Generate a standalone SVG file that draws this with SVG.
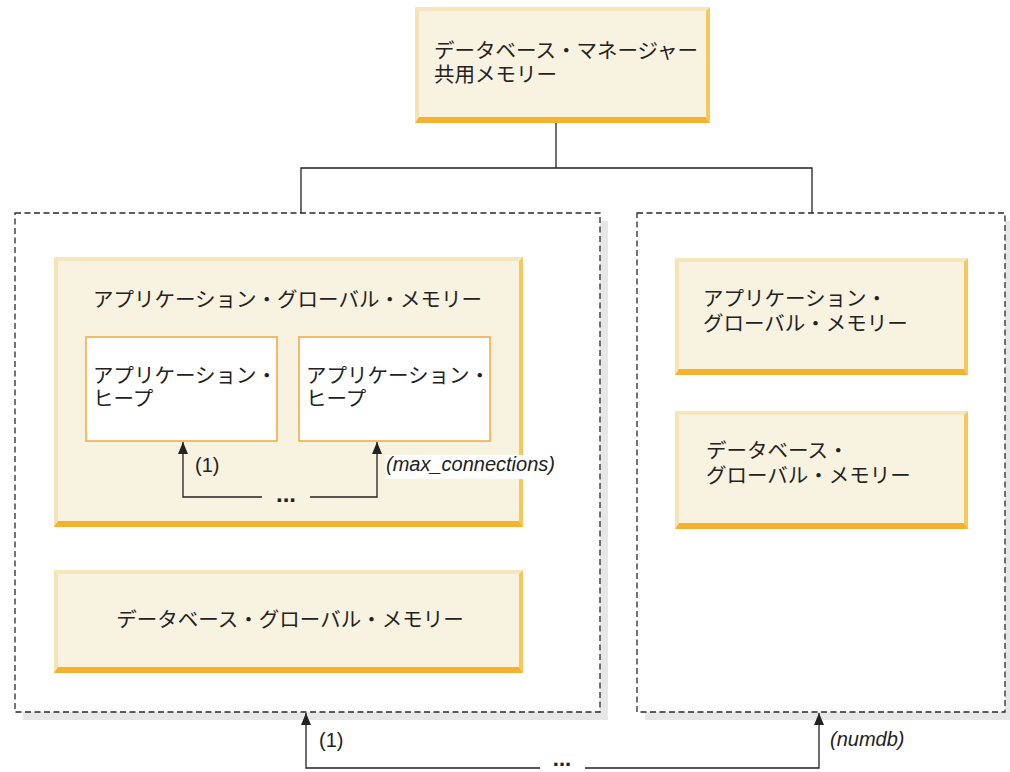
<svg xmlns="http://www.w3.org/2000/svg" width="1010" height="772" viewBox="0 0 1010 772">
<defs>
<style>
.bf{fill:#f8f2e0}
.bt{fill:#f6e6bd}
.bl{fill:#f6e3b3}
.br{fill:#f6c75a}
.bb{fill:#f4b22f}
.jp{font-family:"Noto Sans CJK JP","Noto Sans",sans-serif;font-size:20.5px;fill:#222}
.lb{font-family:"Liberation Sans",Arial,sans-serif;font-size:20px;fill:#222}
.it{font-style:italic}
.dots{font-family:"Liberation Sans",Arial,sans-serif;font-size:24px;font-weight:bold;fill:#222}
.dash{fill:#fff;stroke:#2a2a2a;stroke-width:1.3;stroke-dasharray:6 3.5}
.shadow{fill:#e7e7e7}
.heap{fill:#fff;stroke:#f3a93a;stroke-width:1.5}
.ln{fill:none;stroke:#222;stroke-width:1.3}
</style>
<marker id="arr" viewBox="0 0 12 10" refX="12" refY="5" markerWidth="12" markerHeight="10" markerUnits="userSpaceOnUse" orient="auto">
<path d="M0,0 L12,5 L0,10 z" fill="#222"/>
</marker>
</defs>
<rect width="1010" height="772" fill="#fff"/>

<g id="container-left">
<rect class="shadow" x="23" y="221" width="585" height="499"/>
<rect class="dash" x="15" y="213" width="585" height="499"/>
</g>
<g id="container-right">
<rect class="shadow" x="645" y="221" width="365" height="499"/>
<rect class="dash" x="637" y="213" width="368" height="499"/>
</g>

<g id="db-manager-shared">
<rect class="bf" x="415" y="7" width="295" height="116"/>
<polygon class="bt" points="415,7 710,7 706,11 419,11"/>
<polygon class="bl" points="415,7 419,11 419,117 415,123"/>
<polygon class="br" points="710,7 710,123 706,117 706,11"/>
<polygon class="bb" points="415,123 710,123 706,117 419,117"/>
<text class="jp"><tspan x="434" y="58">データベース・マネージャー</tspan><tspan x="434" y="82">共用メモリー</tspan></text>
</g>

<g id="app-global-left">
<rect class="bf" x="54" y="257" width="469" height="270"/>
<polygon class="bt" points="54,257 523,257 519,261 58,261"/>
<polygon class="bl" points="54,257 58,261 58,521 54,527"/>
<polygon class="br" points="523,257 523,527 519,521 519,261"/>
<polygon class="bb" points="54,527 523,527 519,521 58,521"/>
<text class="jp" x="93" y="307">アプリケーション・グローバル・メモリー</text>
</g>

<g id="heap-1">
<rect class="heap" x="86" y="337" width="191" height="104"/>
<text class="jp"><tspan x="93" y="383">アプリケーション・</tspan><tspan x="93" y="406">ヒープ</tspan></text>
</g>
<g id="heap-n">
<rect class="heap" x="299" y="337" width="191" height="104"/>
<text class="jp"><tspan x="306" y="383">アプリケーション・</tspan><tspan x="306" y="406">ヒープ</tspan></text>
</g>

<g id="db-global-left">
<rect class="bf" x="54" y="570" width="469" height="103"/>
<polygon class="bt" points="54,570 523,570 519,574 58,574"/>
<polygon class="bl" points="54,570 58,574 58,667 54,673"/>
<polygon class="br" points="523,570 523,673 519,667 519,574"/>
<polygon class="bb" points="54,673 523,673 519,667 58,667"/>
<text class="jp" x="290" y="627" text-anchor="middle">データベース・グローバル・メモリー</text>
</g>

<g id="app-global-right">
<rect class="bf" x="675" y="258" width="293" height="117"/>
<polygon class="bt" points="675,258 968,258 964,262 679,262"/>
<polygon class="bl" points="675,258 679,262 679,369 675,375"/>
<polygon class="br" points="968,258 968,375 964,369 964,262"/>
<polygon class="bb" points="675,375 968,375 964,369 679,369"/>
<text class="jp"><tspan x="703" y="306">アプリケーション・</tspan><tspan x="703" y="331">グローバル・メモリー</tspan></text>
</g>

<g id="db-global-right">
<rect class="bf" x="675" y="411" width="293" height="118"/>
<polygon class="bt" points="675,411 968,411 964,415 679,415"/>
<polygon class="bl" points="675,411 679,415 679,523 675,529"/>
<polygon class="br" points="968,411 968,529 964,523 964,415"/>
<polygon class="bb" points="675,529 968,529 964,523 679,523"/>
<text class="jp"><tspan x="706" y="458">データベース・</tspan><tspan x="706" y="483">グローバル・メモリー</tspan></text>
</g>

<g id="connectors">
<path class="ln" d="M556,123 V168"/>
<path class="ln" d="M301,213 V168 H812 V213"/>
<path class="ln" d="M262,497 H183 V442" marker-end="url(#arr)"/>
<path class="ln" d="M310,497 H377 V442" marker-end="url(#arr)"/>
<text class="dots" x="286" y="502" text-anchor="middle">...</text>
<text class="lb" x="195" y="472">(1)</text>
<rect x="385" y="455" width="178" height="24" fill="#fff"/>
<text class="lb it" x="386" y="471">(max_connections)</text>
<path class="ln" d="M540,768 H306 V713" marker-end="url(#arr)"/>
<path class="ln" d="M585,768 H819 V713" marker-end="url(#arr)"/>
<text class="dots" x="562" y="766" text-anchor="middle" style="font-size:22px">...</text>
<text class="lb" x="319" y="747">(1)</text>
<text class="lb it" x="830" y="746">(numdb)</text>
</g>
</svg>
